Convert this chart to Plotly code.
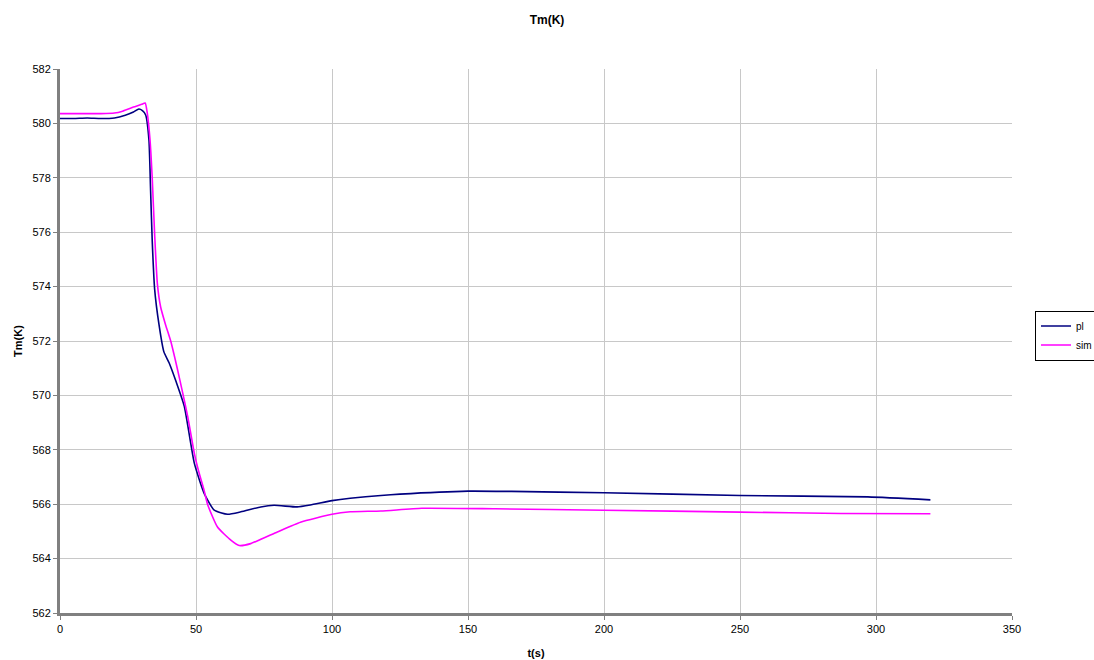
import plotly.graph_objects as go

t_pl = [0, 5, 10, 15, 20, 24, 27, 29, 30.3, 31.5, 32.7, 33.3, 33.9, 34.8, 36.4, 38.2, 40.1, 42.7, 45.7,
        49.4, 53, 56.7, 61.6, 66.5, 73.8, 78.7, 87.2, 92, 100, 106.7, 118, 125, 150, 166, 200, 250, 297, 320]
v_pl = [580.18, 580.18, 580.2, 580.18, 580.2, 580.3, 580.42, 580.53, 580.47, 580.31, 579.39, 577.55, 575.7,
        573.9, 572.6, 571.6, 571.2, 570.5, 569.6, 567.5, 566.4, 565.78, 565.63, 565.72, 565.9, 565.96, 565.9,
        565.97, 566.13, 566.22, 566.32, 566.37, 566.48, 566.47, 566.42, 566.32, 566.27, 566.16]

t_sim = [0, 5, 10, 15, 20, 23, 27, 30, 31.3, 32.1, 33.1, 33.9, 34.8, 35.8, 37, 38.8, 40.7, 43.1, 45, 47,
         49.4, 51, 53, 54.3, 57.9, 62.8, 65.9, 70.1, 79.9, 88.4, 100, 106.7, 118, 133, 160, 200, 250, 287, 320]
v_sim = [580.36, 580.36, 580.36, 580.36, 580.38, 580.45, 580.6, 580.7, 580.75, 580.37, 579.39, 578, 575.9,
         574.1, 573.25, 572.6, 572, 571, 570.14, 569.2, 567.86, 567.2, 566.5, 565.98, 565.16, 564.68, 564.48,
         564.55, 564.98, 565.34, 565.63, 565.72, 565.75, 565.85, 565.83, 565.78, 565.71, 565.66, 565.65]

x_ticks = [0, 50, 100, 150, 200, 250, 300, 350]
y_ticks = [562, 564, 566, 568, 570, 572, 574, 576, 578, 580, 582]

FONT = "Liberation Sans, Arial, sans-serif"

fig = go.Figure()
fig.add_trace(go.Scatter(x=t_pl, y=v_pl, mode="lines", name="pl",
                         line=dict(color="#000080", width=1.6, shape="spline", smoothing=0.5)))
fig.add_trace(go.Scatter(x=t_sim, y=v_sim, mode="lines", name="sim",
                         line=dict(color="#FF00FF", width=1.6, shape="spline", smoothing=0.5)))

W = 1094
L = 60
fig.update_layout(
    width=W, height=660,
    margin=dict(l=L, r=0, t=69, b=47, autoexpand=False),
    paper_bgcolor="white", plot_bgcolor="white",
    font=dict(family=FONT, size=11, color="black"),
    title=dict(text="<b>Tm(K)</b>", x=0.5, xanchor="center", y=0.97, yanchor="middle",
               font=dict(family=FONT, size=12, color="black")),
    showlegend=True,
    legend=dict(x=(1035 - L) / (W - L), y=0.51, xanchor="left", yanchor="middle",
                bordercolor="black", borderwidth=1, bgcolor="white",
                font=dict(family=FONT, size=10), itemwidth=30, tracegroupgap=0),
    xaxis=dict(domain=[0, (1012 - L) / (W - L)], range=[0, 350], tickvals=x_ticks,
               showgrid=True, gridcolor="#c8c8c8", gridwidth=1,
               showline=True, linecolor="#808080", linewidth=3, ticks="outside", ticklen=4,
               tickcolor="#808080", zeroline=False,
               title=dict(text="<b>t(s)</b>", font=dict(family=FONT, size=11), standoff=16)),
    yaxis=dict(range=[562, 582], tickvals=y_ticks, showgrid=True, gridcolor="#c8c8c8", gridwidth=1,
               showline=True, linecolor="#808080", linewidth=3, ticks="outside", ticklen=4,
               tickcolor="#808080", zeroline=False,
               title=dict(text="<b>Tm(K)</b>", font=dict(family=FONT, size=11), standoff=8)),
)

fig.write_html("out.html")
